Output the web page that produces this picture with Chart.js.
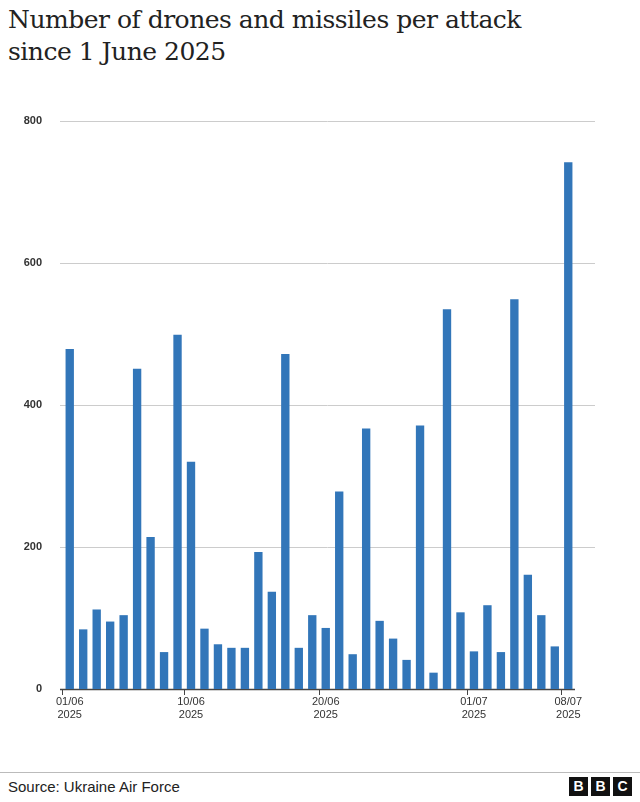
<!DOCTYPE html>
<html><head><meta charset="utf-8">
<script src="https://cdn.jsdelivr.net/npm/chart.js@4/dist/chart.umd.min.js"></script>
<style>
body{margin:0;width:640px;height:802px;background:#fff;font-family:"Liberation Sans",Arial,sans-serif;position:relative;overflow:hidden}
#title{position:absolute;left:8px;top:4px;font-family:"DejaVu Serif",serif;font-size:25px;line-height:32px;color:#222;letter-spacing:-0.5px}
#wrap{position:absolute;left:0;top:100px;width:640px;height:625px}
#foot{position:absolute;left:0;top:772px;width:640px;border-top:1px solid #bbb}
#src{position:absolute;left:8px;top:778px;font-size:15px;color:#222}
#bbc{position:absolute;right:8px;top:777px;display:flex;gap:3px}
#bbc div{width:19px;height:19px;background:#111;color:#fff;font-weight:bold;font-size:14px;text-align:center;line-height:19px}
</style></head><body>
<div id="title">Number of drones and missiles per attack<br>since 1 June 2025</div>
<div id="wrap"><canvas id="c"></canvas></div>
<div id="foot"></div>
<div id="src">Source: Ukraine Air Force</div>
<div id="bbc"><div>B</div><div>B</div><div>C</div></div>
<script>
const dates=["01/06","02/06","03/06","04/06","05/06","06/06","07/06","08/06","09/06","10/06","11/06","12/06","13/06","14/06","15/06","16/06","17/06","18/06","19/06","20/06","21/06","22/06","23/06","24/06","25/06","26/06","27/06","28/06","29/06","30/06","01/07","02/07","03/07","04/07","05/07","06/07","07/07","08/07"];
const values=[479,84,112,95,104,451,214,52,499,320,85,63,58,58,193,137,472,58,104,86,278,49,367,96,71,41,371,23,535,108,53,118,52,549,161,104,60,742];
const labelledDates=["01/06","10/06","20/06","01/07","08/07"];
const yTicks=[0,200,400,600,800];
const gridPlugin={id:'grid',beforeDatasetsDraw(ch){const y=ch.scales.y,ctx=ch.ctx;ctx.save();
 yTicks.forEach(v=>{const py=Math.round(y.getPixelForValue(v))+0.5;ctx.beginPath();ctx.strokeStyle=v===0?'#444':'#ccc';ctx.lineWidth=v===0?1.5:1;ctx.moveTo(60,py);ctx.lineTo(v===0?575:595,py);ctx.stroke();});
 ctx.restore();}};
new Chart(document.getElementById('c'),{type:'bar',
data:{labels:dates,datasets:[{data:values,backgroundColor:'#3276b9',categoryPercentage:1,barPercentage:0.62}]},
plugins:[gridPlugin],
options:{responsive:true,maintainAspectRatio:false,animation:false,
layout:{padding:{left:0,right:65,top:21,bottom:0}},
plugins:{legend:{display:false},tooltip:{enabled:false}},
scales:{
x:{offset:true,afterFit:s=>{s.height=36},grid:{drawOnChartArea:false,drawTicks:true,tickLength:6,color:c=>labelledDates.includes(dates[c.index])?'#444':'rgba(0,0,0,0)'},border:{display:false},
ticks:{autoSkip:false,maxRotation:0,padding:1,color:'#333',font:{size:11,family:'Liberation Sans',lineHeight:1.15},callback:(v,i)=>labelledDates.includes(dates[i])?[dates[i],'2025']:''}},
y:{min:0,max:800,afterFit:s=>{s.width=63},afterBuildTicks:a=>{a.ticks=yTicks.map(v=>({value:v}))},border:{display:false},
grid:{display:false},
ticks:{padding:13,color:'#333',font:{size:11,weight:'bold',family:'Liberation Sans'}}}
}}});
</script></body></html>
